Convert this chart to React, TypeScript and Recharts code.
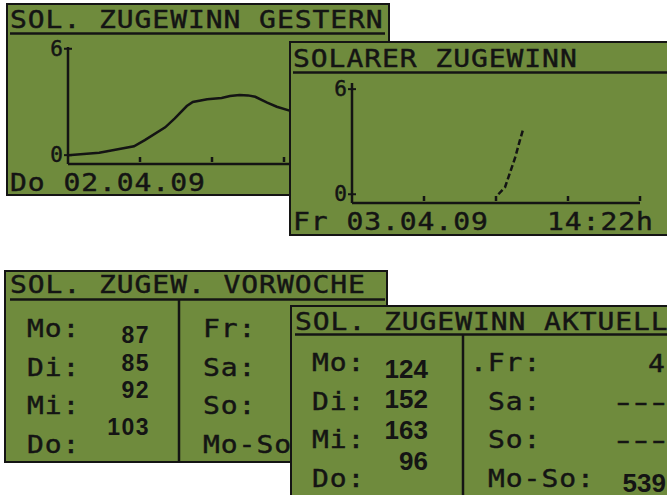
import React from "react";
import { LineChart, Line, XAxis, YAxis } from "recharts";

// Solarer Zugewinn gestern (Do 02.04.09): Stunde -> Leistung
const gesternStunde = [0, 2.6, 5.5, 6.4, 8.1, 8.9, 9.9, 10.4, 11.6, 12.8, 13.5, 14.3, 15.0, 15.6, 16.6, 17.4, 18.6];
const gesternWert = [0, 0.14, 0.5, 0.85, 1.57, 2.07, 2.77, 3.0, 3.15, 3.22, 3.33, 3.39, 3.37, 3.29, 2.96, 2.73, 2.48];

// heute (Fr 03.04.09) bis 14:22h
const heuteStunde = [12.2, 12.75, 13.15, 13.6, 14.0, 14.3];
const heuteWert = [0, 0.4, 1.2, 2.1, 3.1, 3.8];

const stundenTicks = [6, 12, 18, 24];
const wertTicks = [0, 6];

// Tabellen
const tageLinks = ["Mo", "Di", "Mi", "Do"];
const tageRechts = ["Fr", "Sa", "So", "Mo-So"];
const vorwocheWerte = [87, 85, 92, 103];
const aktuellWerte = [124, 152, 163, 96];
const aktuellRechts = ["4", "---", "---"];
const aktuellSumme = 539;

const GREEN = "#6f8b3d";
const INK = "#141414";
const MONO = "'DejaVu Sans Mono', monospace";
const SANS = "'Liberation Sans', Arial, sans-serif";

const toRows = (h: number[], v: number[]) => h.map((x, i) => ({ h: x, v: v[i] }));

// LCD-Schrift: breite Zeichen, 17.8px Raster
const Lcd = ({ x, y, size = 28, sx = 1, children }: any) => (
  <text
    transform={`translate(${x},${y}) scale(${sx},0.88)`}
    fontFamily={MONO}
    fontSize={size}
    letterSpacing={17.8 / sx - size * 0.602}
    fill={INK}
    stroke={INK}
    strokeWidth={0.5}
  >
    {children}
  </text>
);

const Num = ({ x, y, size, spacing = 0, children }: any) => (
  <text
    x={x}
    y={y}
    textAnchor="end"
    fontFamily={SANS}
    fontWeight="bold"
    fontSize={size}
    letterSpacing={spacing}
    fill={INK}
  >
    {children}
  </text>
);

const YTick = (p: any) => (
  <g>
    <line x1={p.x - 4} x2={p.x + 4} y1={p.y} y2={p.y} stroke={INK} strokeWidth={2} />
    <text
      x={p.x - 5}
      y={p.y}
      dy={7}
      textAnchor="end"
      fontFamily={MONO}
      fontSize={21}
      fill={INK}
      stroke={INK}
      strokeWidth={0.5}
    >
      {p.payload.value}
    </text>
  </g>
);

const XTick = (p: any) => (
  <line x1={p.x} x2={p.x} y1={p.y - 2} y2={p.y - 7} stroke={INK} strokeWidth={2.5} />
);

const Kurve = ({ data, left, top, plotH, yMax, dashed }: any) => (
  <div style={{ position: "absolute", left, top: top - 8 }}>
    <LineChart
      width={340}
      height={plotH + 19}
      data={data}
      margin={{ top: 15, right: 4, bottom: 2, left: 0 }}
      style={{ overflow: "visible" }}
    >
      <XAxis
        type="number"
        dataKey="h"
        domain={[0, 24]}
        ticks={stundenTicks}
        interval={0}
        height={2}
        axisLine={{ stroke: INK, strokeWidth: 2.5 }}
        tickLine={false}
        tickSize={0}
        tickMargin={0}
        tick={XTick}
        allowDataOverflow
      />
      <YAxis
        type="number"
        domain={[-0.5, yMax]}
        ticks={wertTicks}
        interval={0}
        width={48}
        axisLine={{ stroke: INK, strokeWidth: 2.5 }}
        tickLine={false}
        tickSize={0}
        tickMargin={0}
        tick={YTick}
        allowDataOverflow
      />
      <Line
        type="linear"
        dataKey="v"
        stroke={INK}
        strokeWidth={2.5}
        strokeDasharray={dashed ? "6 3" : undefined}
        dot={false}
        isAnimationActive={false}
      />
    </LineChart>
  </div>
);

const Panel = ({ x, y, w, h, children, chart }: any) => (
  <div style={{ position: "absolute", left: x, top: y, width: w, height: h, background: GREEN }}>
    <svg
      width={w}
      height={h}
      viewBox={`${x} ${y} ${w} ${h}`}
      style={{ position: "absolute", left: 0, top: 0 }}
    >
      <rect x={x + 1} y={y + 1} width={w - 2} height={h - 2} fill="none" stroke={INK} strokeWidth={2} />
      {children}
    </svg>
    {chart}
  </div>
);

const rowsL = [337, 376, 414, 453];
const rowsR = [371, 410, 448, 487];

export default function App() {
  return (
    <div
      style={{
        position: "absolute",
        left: 0,
        top: 0,
        width: 667,
        height: 495,
        background: "#fff",
        overflow: "hidden",
      }}
    >
      {/* Gestern */}
      <Panel
        x={6}
        y={3}
        w={384}
        h={193}
        chart={
          <Kurve data={toRows(gesternStunde, gesternWert)} left={20 - 6} top={40 - 3} plotH={117} yMax={6.1} />
        }
      >
        <Lcd x={10} y={28}>SOL. ZUGEWINN GESTERN</Lcd>
        <line x1={10} x2={385} y1={33.5} y2={33.5} stroke={INK} strokeWidth={2.5} />
        <Lcd x={10} y={191}>Do 02.04.09</Lcd>
      </Panel>

      {/* Heute */}
      <Panel
        x={289}
        y={41}
        w={400}
        h={195}
        chart={
          <Kurve
            data={toRows(heuteStunde, heuteWert)}
            left={304 - 289}
            top={76 - 41}
            plotH={120}
            yMax={6.35}
            dashed
          />
        }
      >
        <Lcd x={293} y={67}>SOLARER ZUGEWINN</Lcd>
        <line x1={293} x2={689} y1={72.5} y2={72.5} stroke={INK} strokeWidth={2.5} />
        <Lcd x={293} y={230}>Fr 03.04.09</Lcd>
        <Lcd x={547} y={230}>14:22h</Lcd>
      </Panel>

      {/* Vorwoche */}
      <Panel x={4} y={270} w={384} h={193}>
        <Lcd x={10} y={293}>SOL. ZUGEW. VORWOCHE</Lcd>
        <line x1={10} x2={385} y1={299.5} y2={299.5} stroke={INK} strokeWidth={2.5} />
        <line x1={179} x2={179} y1={300} y2={462} stroke={INK} strokeWidth={2.5} />
        {tageLinks.map((t, i) => (
          <Lcd key={t} x={27} y={rowsL[i]}>{t + ":"}</Lcd>
        ))}
        {tageRechts.map((t, i) => (
          <Lcd key={t} x={203} y={rowsL[i]}>{t + ":"}</Lcd>
        ))}
        {vorwocheWerte.map((v, i) => (
          <Num key={i} x={150} y={[343, 371, 398, 435][i]} size={23} spacing={1.5}>
            {v}
          </Num>
        ))}
      </Panel>

      {/* Aktuell */}
      <Panel x={290} y={305} w={400} h={200}>
        <Lcd x={295} y={330}>SOL. ZUGEWINN AKTUELL</Lcd>
        <line x1={295} x2={690} y1={334.5} y2={334.5} stroke={INK} strokeWidth={2.5} />
        <line x1={463} x2={463} y1={335} y2={505} stroke={INK} strokeWidth={2.5} />
        {tageLinks.map((t, i) => (
          <Lcd key={t} x={312} y={rowsR[i]}>{t + ":"}</Lcd>
        ))}
        {tageRechts.map((t, i) => (
          <Lcd key={t} x={i === 0 ? 470 : 488} y={rowsR[i]}>{(i === 0 ? "." : "") + t + ":"}</Lcd>
        ))}
        {aktuellRechts.map((v, i) =>
          v.length === 1 ? (
            <Lcd key={i} x={648} y={rowsR[i] + 1}>{v}</Lcd>
          ) : (
            <Lcd key={i} x={611} y={rowsR[i] + 1} sx={1.45}>{v}</Lcd>
          )
        )}
        {aktuellWerte.map((v, i) => (
          <Num key={i} x={428} y={[378, 408, 439, 470][i]} size={26}>
            {v}
          </Num>
        ))}
        <Num x={666} y={492} size={26}>
          {aktuellSumme}
        </Num>
      </Panel>
    </div>
  );
}
